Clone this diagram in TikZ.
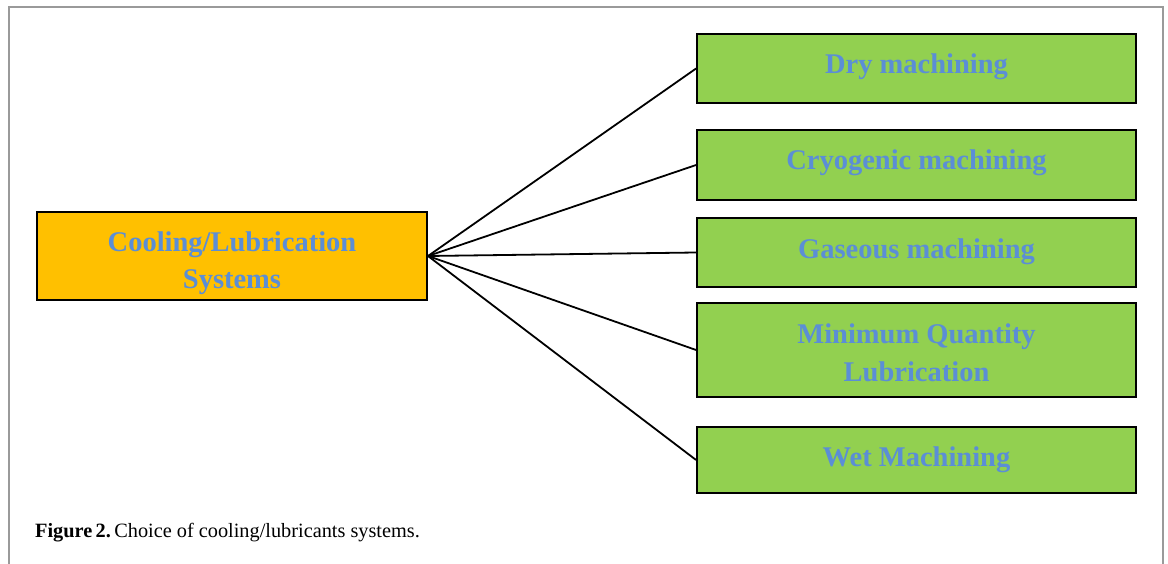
\documentclass[tikz,border=0pt]{standalone}
\usepackage{fontspec}
\setmainfont{Liberation Serif}
\definecolor{frameGray}{HTML}{9A9A9A}
\definecolor{boxOrange}{HTML}{FFC000}
\definecolor{boxGreen}{HTML}{92D050}
\definecolor{txtBlue}{HTML}{5B8ED6}
\begin{document}
\begin{tikzpicture}[x=1pt,y=-1pt,
  boxL/.style={draw=black,line width=2pt,fill=boxOrange,minimum width=390pt,minimum height=88pt,inner sep=0pt},
  boxR/.style={draw=black,line width=1.8pt,fill=boxGreen,minimum width=439pt,inner sep=0pt},
  lbl/.style={text=txtBlue,font=\fontsize{28.5}{37.5}\selectfont\bfseries,anchor=base,inner sep=0pt,align=center},
  conn/.style={draw=black,line width=1.8pt}]
\useasboundingbox (0,0) rectangle (1168,564);
\draw[frameGray,line width=1.2pt] (9,580) -- (9,7) -- (1163,7) -- (1163,580);
% left box
\node[boxL] (L) at (232,256) {};
\node[lbl] (Lt1) at (232,252) {Cooling/Lubrication};
\node[lbl] (Lt2) at (232,289) {Systems};
% right boxes
\node[boxR,minimum height=69pt] (dry) at (916.5,68.5) {};
\node[lbl] (dryt) at (916.5,74) {Dry machining};
\node[boxR,minimum height=70pt] (cryo) at (916.5,165) {};
\node[lbl] (cryot) at (916.5,170) {Cryogenic machining};
\node[boxR,minimum height=69pt] (gas) at (916.5,252.5) {};
\node[lbl] (gast) at (916.5,258.5) {Gaseous machining};
\node[boxR,minimum height=94pt] (mql) at (916.5,350) {};
\node[lbl] (mqlt1) at (916.5,343.5) {Minimum Quantity};
\node[lbl] (mqlt2) at (916.5,381.5) {Lubrication};
\node[boxR,minimum height=66pt] (wet) at (916.5,460) {};
\node[lbl] (wett) at (916.5,466.5) {Wet Machining};
% connectors
\draw[conn] (L.east) -- (dry.west);
\draw[conn] (L.east) -- (cryo.west);
\draw[conn] (L.east) -- (gas.west);
\draw[conn] (L.east) -- (mql.west);
\draw[conn] (L.east) -- (wet.west);
% caption
\node[anchor=base west,inner sep=0pt,font=\fontsize{20.3}{24}\selectfont] (cap) at (35,537) {\textbf{Figure\,2.}\,Choice of cooling/lubricants systems.};
\end{tikzpicture}
\end{document}
